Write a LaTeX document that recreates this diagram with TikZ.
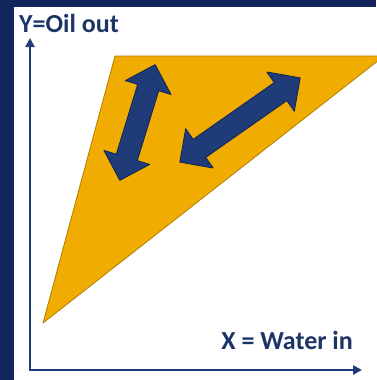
\documentclass[tikz,border=0pt]{standalone}
\usepackage{fontspec}
\setmainfont{Carlito}
\usetikzlibrary{arrows.meta}
\definecolor{frame}{HTML}{13265C}
\definecolor{navy}{HTML}{1F3C78}
\definecolor{navyline}{HTML}{102455}
\definecolor{gold}{HTML}{F0AC00}
\definecolor{goldline}{HTML}{B07E00}
\definecolor{textnavy}{HTML}{1C3466}
\tikzset{
  axis/.style={draw=navy, line width=2.6pt, -{Triangle[length=9pt,width=9pt]}},
  label/.style={font=\bfseries\fontsize{26}{30}\selectfont, text=textnavy, inner sep=0pt},
  fatarrow/.style={fill=navy, draw=navyline, line width=0.8pt, line join=round},
}
\begin{document}
\begin{tikzpicture}[x=1pt,y=-1pt]
\useasboundingbox (0,0) rectangle (376,380);
\fill[frame] (0,0) rectangle (376,380);
\fill[white] (14,7) rectangle (380,384);
% orange region
\filldraw[fill=gold, draw=goldline, line width=0.8pt, line join=round]
  (115,56) -- (384,56) -- (43,323) -- cycle;
% axes
\coordinate (origin) at (30,370);
\coordinate (ytip) at (30,38);
\coordinate (xtip) at (362,370);
\draw[axis] (origin) -- (ytip);
\draw[axis] ([xshift=-1.3pt]origin) -- (xtip);
% labels
\node[label, anchor=base west] (ylab) at (19,32) {Y=Oil out};
\node[label, anchor=base east] (xlab) at (353,349) {X = Water in};
% double arrows
\foreach \cx/\cy/\ang/\len [count=\i] in {137.5/122.5/73/121, 240/120/35/147}{
  \begin{scope}[shift={(\cx,\cy)}, rotate=\ang]
    \pgfmathsetmacro{\hl}{\len/2}
    \pgfmathsetmacro{\hb}{\len/2-24}
    \draw[fatarrow] (-\hl,0) -- (-\hb,-24) -- (-\hb,-11) -- (\hb,-11) -- (\hb,-24)
      -- (\hl,0) -- (\hb,24) -- (\hb,11) -- (-\hb,11) -- (-\hb,24) -- cycle;
  \end{scope}
}
\end{tikzpicture}
\end{document}
